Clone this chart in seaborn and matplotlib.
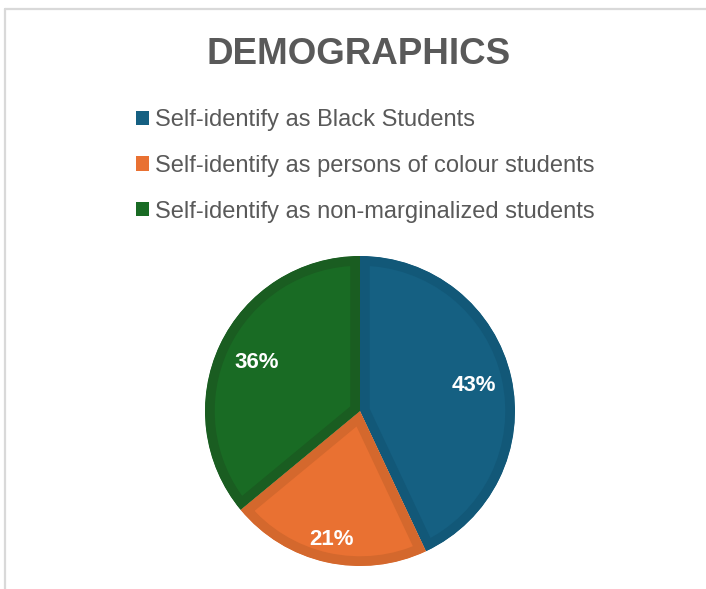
import matplotlib
matplotlib.use("Agg")
import matplotlib.pyplot as plt
from matplotlib.patches import Patch
from matplotlib.lines import Line2D
import numpy as np
import seaborn as sns

# Data
categories = [
    "Self-identify as Black Students",
    "Self-identify as persons of colour students",
    "Self-identify as non-marginalized students",
]
shares = [43, 21, 36]
fill_colors = ["#156082", "#E97132", "#196B24"]
edge_colors = ["#125878", "#D4682D", "#1A5D21"]
label_radius = [0.75, 0.85, 0.74]

sns.set_theme(style="white")
plt.rcParams["font.family"] = ["Liberation Sans", "DejaVu Sans"]

W, H = 706, 589
fig = plt.figure(figsize=(W / 100, H / 100), dpi=100)
fig.patch.set_facecolor("white")

# Chart-area frame (top and left edges)
frame_kw = dict(color="#D9D9D9", linewidth=1.6, transform=fig.transFigure)
fig.add_artist(Line2D([5 / W, 1.0], [1 - 9 / H, 1 - 9 / H], **frame_kw))
fig.add_artist(Line2D([5 / W, 5 / W], [1 - 9 / H, 0.0], **frame_kw))

# Title
fig.text(359 / W, 1 - 54 / H, "DEMOGRAPHICS", ha="center", va="center",
         fontsize=26.5, fontweight="bold", color="#595959")

# Pie
cx, cy, r = 360, 411, 155
ax = fig.add_axes([(cx - r) / W, (H - cy - r) / H, 2 * r / W, 2 * r / H])
wedges, _ = ax.pie(shares, colors=fill_colors, startangle=90, counterclock=False,
                   radius=1.0, wedgeprops=dict(linewidth=14))
# darker band drawn just inside each slice
for w, ec in zip(wedges, edge_colors):
    w.set_edgecolor(ec)
    w.set_clip_on(True)
    w.set_clip_path(w)

for w, val, d in zip(wedges, shares, label_radius):
    mid = np.deg2rad((w.theta1 + w.theta2) / 2)
    ax.text(d * np.cos(mid), d * np.sin(mid), f"{val}%", ha="center", va="center",
            fontsize=16, fontweight="bold", color="white")
ax.set_xlim(-1, 1)
ax.set_ylim(-1, 1)
ax.set_aspect("equal")
ax.axis("off")

# Legend
handles = [Patch(facecolor=c, edgecolor="none") for c in fill_colors]
fig.legend(handles, categories, loc="upper left",
           bbox_to_anchor=(136 / W, 1 - 109 / H), frameon=False,
           fontsize=17, handlelength=0.55, handleheight=0.55, handletextpad=0.25,
           labelspacing=1.01, borderpad=0, borderaxespad=0, labelcolor="#595959")

fig.savefig("out.png", dpi=100, facecolor="white")
